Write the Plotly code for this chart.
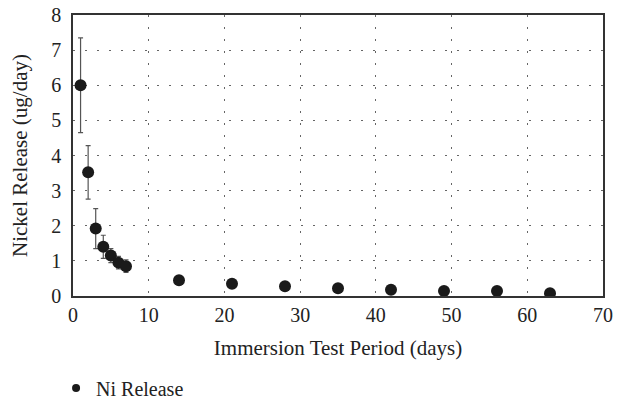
import plotly.graph_objects as go

days = [1, 2, 3, 4, 5, 6, 7, 14, 21, 28, 35, 42, 49, 56, 63]
ni_release = [6.0, 3.52, 1.92, 1.4, 1.15, 0.95, 0.85, 0.45, 0.35, 0.28, 0.22, 0.18, 0.14, 0.14, 0.08]
ni_error = [1.35, 0.76, 0.57, 0.33, 0.2, 0.18, 0.18, 0, 0, 0, 0, 0, 0, 0, 0]

font_family = "Liberation Serif"

fig = go.Figure()
fig.add_trace(go.Scatter(
    x=days, y=ni_release, mode="markers", name="Ni Release", showlegend=False,
    marker=dict(color="#1a1a1a", size=12),
    error_y=dict(type="data", array=ni_error, visible=True, color="#555555", thickness=1.2, width=2.5),
))
# legend entry with small marker
fig.add_trace(go.Scatter(
    x=[None], y=[None], mode="markers", name="Ni Release",
    marker=dict(color="#1a1a1a", size=8),
))

grid = dict(showgrid=True, gridcolor="#666666", griddash="2px,10px", gridwidth=1,
            showline=True, linecolor="#333333", linewidth=1.5, mirror=True, zeroline=False,
            ticks="", automargin=False)

fig.update_layout(
    width=623, height=400,
    margin=dict(l=73, r=20, t=15, b=104),
    paper_bgcolor="white", plot_bgcolor="white",
    font=dict(family=font_family, size=20, color="#222222"),
    showlegend=True,
    legend=dict(orientation="h", xref="container", yref="container", x=0.09, y=0.03,
                xanchor="left", yanchor="middle", font=dict(size=20)),
    xaxis=dict(range=[0, 70], dtick=10, **grid, ticklabelstandoff=0,
               title=dict(text="Immersion Test Period (days)", font=dict(size=21), standoff=16)),
    yaxis=dict(range=[0, 8], dtick=1, **grid, ticklabelstandoff=6,
               title=dict(text="Nickel Release (ug/day)", font=dict(size=21), standoff=18)),
)

fig.write_html("out.html")
